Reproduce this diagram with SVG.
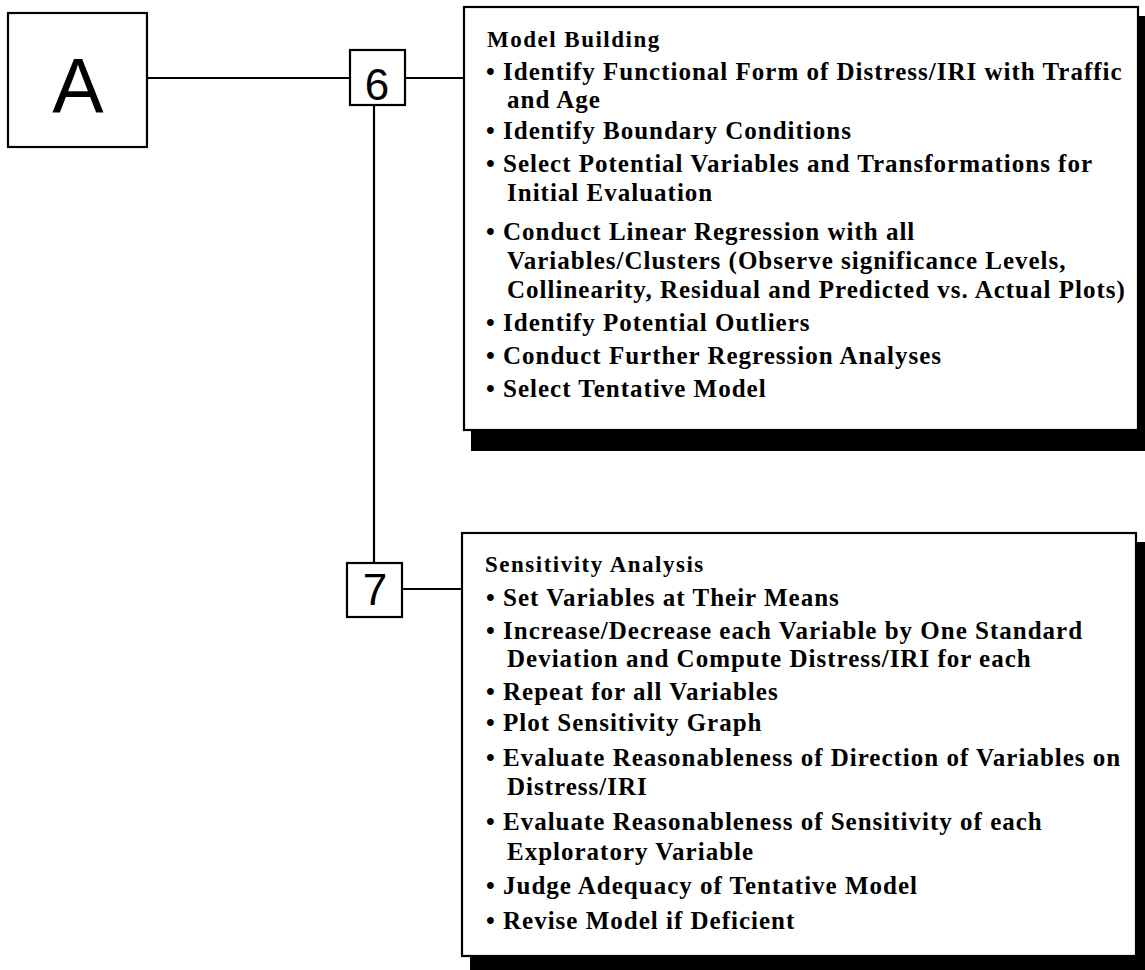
<svg xmlns="http://www.w3.org/2000/svg" width="1145" height="970" viewBox="0 0 1145 970">
<style>
.box{fill:#fff;stroke:#000;stroke-width:2.2}
.shadow{fill:#000}
.big{font-family:"Liberation Sans",Arial,sans-serif;fill:#000;text-anchor:middle}
.h{font-family:"Liberation Serif","Times New Roman",serif;font-weight:bold;font-size:23px;letter-spacing:1.5px;fill:#000}
.t{font-family:"Liberation Serif","Times New Roman",serif;font-weight:bold;font-size:25px;letter-spacing:1px;fill:#000}
.c{stroke:#000;stroke-width:2.2;fill:none}
</style>
<rect width="1145" height="970" fill="#fff"/>
<g id="connectors">
<line class="c" x1="147" y1="78" x2="350" y2="78"/>
<line class="c" x1="405" y1="78" x2="464" y2="78"/>
<line class="c" x1="374" y1="105" x2="374" y2="563"/>
<line class="c" x1="402" y1="589" x2="462" y2="589"/>
</g>
<g id="nodeA">
<rect class="box" x="8" y="13" width="139" height="134"/>
<text class="big" x="78" y="113" font-size="77">A</text>
</g>
<g id="node6">
<rect class="box" x="350" y="50" width="55" height="55"/>
<text class="big" x="377" y="100" font-size="44">6</text>
</g>
<g id="node7">
<rect class="box" x="347" y="563" width="55" height="54"/>
<text class="big" x="375" y="605" font-size="44">7</text>
</g>
<g id="modelBuilding">
<rect class="shadow" x="471" y="16" width="674" height="435"/>
<rect class="box" x="464" y="7" width="674" height="423"/>
<text class="h" x="487" y="47">Model Building</text>
<text class="t" x="486" y="80">• Identify Functional Form of Distress/IRI with Traffic</text>
<text class="t" x="507" y="108">and Age</text>
<text class="t" x="486" y="139">• Identify Boundary Conditions</text>
<text class="t" x="486" y="172">• Select Potential Variables and Transformations for</text>
<text class="t" x="507" y="201">Initial Evaluation</text>
<text class="t" x="486" y="240">• Conduct Linear Regression with all</text>
<text class="t" x="507" y="269">Variables/Clusters (Observe significance Levels,</text>
<text class="t" x="507" y="298">Collinearity, Residual and Predicted vs. Actual Plots)</text>
<text class="t" x="486" y="331">• Identify Potential Outliers</text>
<text class="t" x="486" y="364">• Conduct Further Regression Analyses</text>
<text class="t" x="486" y="397">• Select Tentative Model</text>
</g>
<g id="sensitivityAnalysis">
<rect class="shadow" x="470" y="542" width="675" height="428"/>
<rect class="box" x="462" y="533" width="674" height="423"/>
<text class="h" x="485" y="572">Sensitivity Analysis</text>
<text class="t" x="486" y="606">• Set Variables at Their Means</text>
<text class="t" x="486" y="639">• Increase/Decrease each Variable by One Standard</text>
<text class="t" x="507" y="667">Deviation and Compute Distress/IRI for each</text>
<text class="t" x="486" y="700">• Repeat for all Variables</text>
<text class="t" x="486" y="731">• Plot Sensitivity Graph</text>
<text class="t" x="486" y="766">• Evaluate Reasonableness of Direction of Variables on</text>
<text class="t" x="507" y="795">Distress/IRI</text>
<text class="t" x="486" y="830">• Evaluate Reasonableness of Sensitivity of each</text>
<text class="t" x="507" y="860">Exploratory Variable</text>
<text class="t" x="486" y="894">• Judge Adequacy of Tentative Model</text>
<text class="t" x="486" y="929">• Revise Model if Deficient</text>
</g>
</svg>
